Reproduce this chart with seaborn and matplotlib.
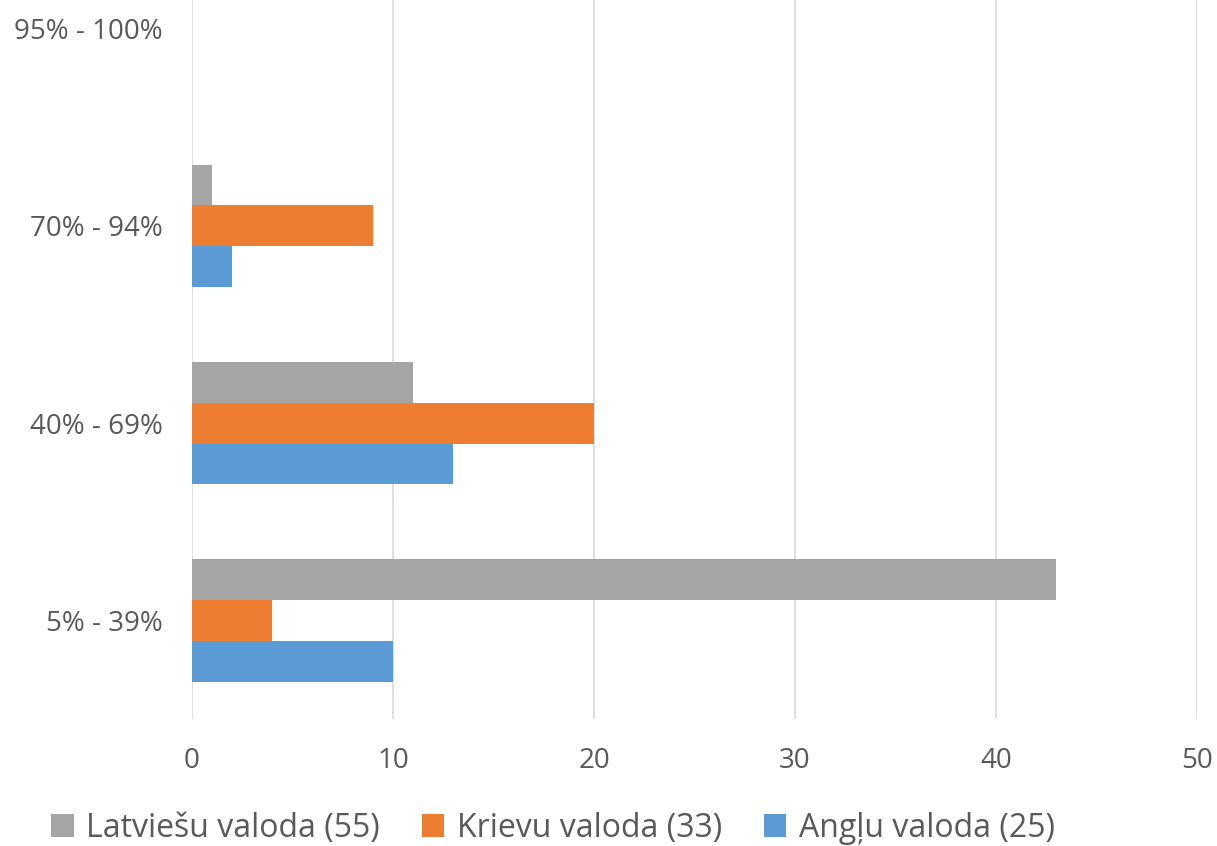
import matplotlib
matplotlib.use("Agg")
import matplotlib.pyplot as plt
import seaborn as sns
import pandas as pd

categories = ["95% - 100%", "70% - 94%", "40% - 69%", "5% - 39%"]
series = ["Latviešu valoda (55)", "Krievu valoda (33)", "Angļu valoda (25)"]
latviesu = [0, 1, 11, 43]
krievu = [0, 9, 20, 4]
anglu = [0, 2, 13, 10]
colors = ["#A5A5A5", "#ED7D31", "#5B9BD5"]

rows = []
for s, vals in zip(series, [latviesu, krievu, anglu]):
    for c, v in zip(categories, vals):
        rows.append({"cat": c, "series": s, "value": v})
df = pd.DataFrame(rows)

sns.set_style("white")
plt.rcParams['font.family'] = ['Open Sans', 'DejaVu Sans']

fig = plt.figure(figsize=(12.17, 8.46), dpi=100)
W, H = 1217, 846
left, right = 192, 1197
bottom_px, top_px = 719, -70
ax = fig.add_axes([left / W, (H - bottom_px) / H, (right - left) / W, (bottom_px - top_px) / H])

sns.barplot(data=df, y="cat", x="value", hue="series", order=categories,
            hue_order=series, palette=colors, width=0.62, orient="h",
            saturation=1, linewidth=0, ax=ax, legend=True)

ax.set_xlim(0, 50)
ax.set_ylim(3.5, -0.5)
ax.set_xticks(range(0, 51, 10))
ax.xaxis.grid(True, color="#D9D9D9", linewidth=1.2)
ax.set_axisbelow(True)
for sp in ax.spines.values():
    sp.set_visible(False)
ax.set_xlabel("")
ax.set_ylabel("")
ax.tick_params(axis="both", length=0, labelsize=20, colors="#595959")
ax.tick_params(axis="y", pad=21)
ax.tick_params(axis="x", pad=20)

handles, labels = ax.get_legend_handles_labels()
ax.legend_.remove()
fig.legend(handles, labels, loc="center", bbox_to_anchor=(553 / W, (H - 828) / H),
           ncol=3, frameon=False, fontsize=23, handlelength=0.7, handleheight=0.7,
           columnspacing=1.3, handletextpad=0.4, labelcolor="#595959")

fig.savefig("out.png", dpi=100)
